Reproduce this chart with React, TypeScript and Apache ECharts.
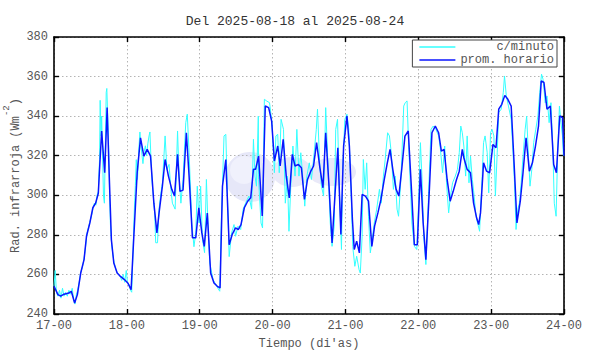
import React, { useEffect, useRef } from "react";
import * as echarts from "echarts";

const titleText = "Del 2025-08-18 al 2025-08-24";
const seriesNames = ["c/minuto", "prom. horario"];

// hourly mean (hours since 17-00)
const hourlyHours = [0, 1.3, 2.2, 3.3, 4.9, 5.7, 6.8, 7.7, 8.8, 9.9, 10.7, 11.8, 12.8, 13.7, 14.6, 15.0, 15.7, 16.7, 17.5, 18.2, 18.9, 19.7, 20.8, 21.9, 23.2, 24.3, 25.4, 26.3, 27.4, 28.5, 29.6, 30.7, 31.8, 32.9, 33.9,
  34.6, 35.7, 36.6, 37.7, 38.8, 39.7, 40.7, 41.5, 42.5, 43.6, 44.5, 45.6, 46.7, 47.7, 48.7, 49.5, 50.5, 51.6, 52.7, 53.8, 54.7, 55.5, 56.6, 57.7, 58.7, 59.8, 60.7, 61.6, 62.7, 63.8, 64.8, 65.7, 66.4, 67.4,
  68.6, 69.6, 70.7, 71.7, 72.6, 73.7, 74.5, 75.5, 76.5, 77.5, 78.5, 79.4, 80.5, 81.5, 82.5, 83.5, 84.6, 85.5, 86.5, 87.6, 88.6, 89.5, 90.6, 91.6, 92.6, 93.5, 94.5, 95.4, 96.5, 97.3, 98.3, 98.9, 99.7, 100.6,
  101.5, 102.6, 103.6, 104.7, 105.6, 106.7, 107.7, 108.7, 109.7, 110.7, 111.6, 112.7, 113.6, 114.6, 115.6, 116.7, 117.7, 118.7, 119.7, 120.7, 121.6, 122.5, 123.6, 124.5, 125.6, 126.7, 127.6, 128.5, 129.5, 130.5, 131.5, 132.6, 133.5, 134.5,
  135.0, 136.1, 137.2, 138.2, 139.2, 139.9, 140.5, 141.5, 142.5, 143.5, 144.6, 145.6, 146.5, 147.5, 148.5, 149.5, 150.6, 151.5, 152.5, 153.6, 154.5, 155.5, 156.6, 157.6, 158.6, 159.6, 160.5, 161.4, 162.4, 163.5, 164.6, 165.5, 166.6, 167.5, 168];
const hourlyValues = [254, 249.8, 249, 250, 250.6, 251.5, 245.6, 249.8, 260.7, 267.5, 279.3, 286, 293.7, 296, 301, 313, 332.5, 311.4, 344.3, 309.7, 277.6, 265.8, 260.7, 259, 257.4, 255.7, 252.3, 279.3, 311.4, 329, 319.8, 323.2, 319.8, 296, 281,
  291, 304.6, 318.1, 309.7, 303, 299.6, 320.7, 302, 302.6, 331.6, 309.7, 278.5, 278.5, 293.7, 281, 274.2, 291, 260.7, 255.7, 254, 253.2, 304.6, 318.1, 275, 280.2, 283.5, 282.7, 285.2, 293.7, 297, 298.7, 313.1, 313.1, 319.8,
  289.5, 345.1, 344.3, 337.5, 317.3, 324.9, 314.8, 328.3, 309.7, 298.7, 320.7, 314.8, 315.6, 313.9, 297.9, 308, 312.2, 314.8, 326.6, 313.9, 303.8, 331.6, 304.6, 275.9, 301.2, 324, 280.2, 324.9, 340.1, 324.9, 287.8, 272.6, 276.8, 270.9,
  300.4, 299.6, 297, 274.2, 284.4, 291.1, 297.9, 307.2, 315.6, 323.2, 313.1, 303, 299.6, 313.9, 329.9, 332.5, 304.6, 275, 275, 313.1, 286.1, 267.5, 301.2, 331.6, 335, 331.6, 322.3, 323.2, 308, 297, 302, 308, 312.2, 323.2,
  319, 313.1, 311.4, 296.2, 288.6, 285.2, 291.1, 316.4, 312.2, 311.4, 325.7, 324, 343.5, 346, 350.5, 348.5, 345.1, 318.1, 286, 297, 311.4, 329.1, 312.2, 316.4, 324.9, 335, 357.8, 357, 343.5, 345.1, 315.6, 311.4, 340.1, 339.2, 320];

// per-minute readings (spikes and troughs visible in the picture)
const minuteHours = [0, 0.4, 0.8, 1.3, 1.8, 2.3, 2.8, 3.3, 3.8, 4.4, 4.9, 5.5, 6.0, 6.5, 6.9, 7.4, 7.8, 8.3, 8.8, 9.4, 9.9, 10.4, 10.9, 11.4, 11.9, 12.4, 12.9, 13.3, 13.8, 14.2, 14.6, 15.0, 15.2, 15.5, 15.7, 16.0, 16.3, 16.6, 16.9, 17.2, 17.4, 17.7, 18.0, 18.3, 18.6, 19.0, 19.4, 19.8, 20.3, 20.8, 21.3, 21.8, 22.3, 22.8, 23.3, 23.8, 24.2, 24.7, 25.2, 25.6, 26.0, 26.4, 26.8, 27.1, 27.5, 27.9, 28.3, 28.6, 29.0, 29.3, 29.7, 30.1, 30.5, 30.9, 31.3, 31.6, 32.0, 32.4, 32.8, 33.2, 33.5,
  34.1, 34.6, 35.2, 35.7, 36.6, 37.2, 37.9, 38.5, 39.0, 39.9, 40.7, 41.2, 41.8, 42.5, 43.4, 43.9, 44.5, 45.4, 46.1, 46.7, 47.2, 47.8, 48.3, 48.9, 49.6, 50.2, 50.7, 51.3, 52.4, 53.6, 54.6, 55.1, 56.0, 56.6, 57.2, 57.7, 58.5, 59.3, 59.8, 60.6, 61.5, 62.3, 63.1, 64.2, 65.1, 65.7, 66.2, 66.7, 67.3,
  67.4, 68.2, 68.7, 69.3, 70.1, 71.0, 71.8, 72.6, 73.1, 73.7, 74.2, 74.8, 75.6, 76.2, 76.9, 77.4, 78.0, 78.7, 79.4, 80.0, 80.7, 81.3, 82.1, 82.6, 83.3, 84.1, 84.8, 85.7, 86.4, 86.8, 87.5, 88.1, 88.8, 89.5, 90.1, 91.0, 91.6, 92.3, 92.8, 93.4, 94.0, 94.7, 95.1, 95.8, 96.5, 97.1, 97.8, 98.4, 99.1, 99.7, 100.5,
  100.9, 101.5, 101.9, 102.5, 103.0, 103.6, 104.2, 104.8, 105.5, 106.3, 107.2, 107.8, 108.5, 109.1, 109.9, 110.5, 111.1, 111.8, 112.4, 113.0, 113.5, 114.2, 114.6, 115.2, 115.7, 116.3, 116.8, 117.4, 117.9, 118.7, 119.5, 120.1, 120.7, 121.2, 121.8, 122.5, 123.1, 123.6, 124.2, 124.9, 125.8, 126.7, 127.3, 128.0, 128.7, 129.3, 130.0, 130.6, 131.3, 132.2, 132.9, 133.5, 134.0,
  134.5, 135.0, 135.6, 136.1, 136.7, 137.2, 137.8, 138.3, 138.9, 139.4, 140.2, 141.0, 141.5, 142.0, 142.7, 143.2, 143.8, 144.3, 144.9, 145.4, 146.0, 146.5, 147.3, 148.0, 148.4, 149.0, 149.7, 150.6, 151.1, 151.7, 152.2, 152.8, 153.3, 153.9, 154.5, 155.2, 155.7, 156.3, 156.8, 157.4, 158.0, 158.7, 159.4, 160.0, 160.6, 161.1, 161.8, 162.4, 163.1, 163.7, 164.3, 164.8, 165.4, 165.9, 166.5, 167.0, 167.5, 167.8];
const minuteValues = [254, 262, 251, 249, 252, 248, 253, 249, 251, 249, 252, 250, 253, 247, 245, 250, 252, 256, 261, 264, 268, 274, 281, 284, 287, 290, 294, 296, 295, 300, 302, 318, 348, 330, 340, 320, 300, 296, 325, 352, 354, 340, 325, 300, 285, 275, 270, 266, 263, 261, 260, 259, 257, 260, 256, 262, 256, 255, 252, 251, 270, 290, 305, 318, 308, 322, 332, 326, 320, 316, 322, 325, 320, 326, 330, 332, 316, 305, 298, 290, 276,
  276, 293, 301, 306, 330, 313, 315.6, 303, 296, 293, 332.5, 309.7, 296, 308, 336.7, 341, 321.5, 286, 274, 281, 304.6, 286, 304.6, 277.6, 271, 308, 286, 265.8, 257.4, 254, 251.5, 286, 330, 330.8, 296, 269, 281, 285.2, 279.3, 284.4, 282.7, 293, 296, 299.6, 293, 328.3, 309.7, 304.6, 340,
  308, 286, 283.5, 348.5, 347.6, 346.8, 336.7, 311.4, 330, 330.8, 311.4, 338.4, 333.3, 296, 309.7, 281.8, 304.6, 324.9, 309.7, 333.3, 309.7, 321.5, 306.3, 294.5, 309.7, 316.4, 308, 321.5, 333.3, 343.5, 316.4, 304.6, 299.6, 344.3, 321.5, 286, 274.2, 284.4, 333.3, 338.4, 303, 272.6, 313.1, 338.4, 341, 333.3, 304.6, 274.2, 264.1, 269.2, 262.4,
  260.7, 279.3, 318.1, 303, 316.4, 289.4, 270.9, 277.6, 286, 293, 303, 296, 309.7, 318.1, 331.6, 330, 321.5, 303, 309.7, 293, 289.4, 306.3, 319.8, 345.1, 346.8, 347.7, 326.6, 304.6, 286, 274.2, 272.6, 296, 326.6, 309.7, 279.3, 265, 287.8, 309.7, 333.3, 335, 333.3, 330, 323.2, 311.4, 324.9, 306.3, 291.1, 299.6, 306.3, 309.7, 313.1, 321.5, 335,
  331.6, 324.9, 309.7, 330, 306.3, 319.8, 308, 301.2, 291.1, 286.9, 281.8, 308, 326.6, 330, 321.5, 301.2, 331.6, 333.3, 330, 299.6, 321.5, 341.8, 343.5, 351.9, 360.3, 350.2, 345.1, 338.4, 324.9, 306.3, 282.7, 293, 296, 306.3, 319.8, 333.3, 340, 319.8, 304.6, 313.1, 326.6, 333.3, 340, 351.9, 361.2, 358.6, 346.8, 350.2, 336.7, 346.8, 324.9, 296, 289.4, 321.5, 345.1, 336.7, 330, 320];

const yMin = 240;
const yMax = 380;
const yStep = 20;

const mono = "'Liberation Mono', 'DejaVu Sans Mono', monospace";
const textGray = "#555555";

export default function App() {
  const ref = useRef<HTMLDivElement | null>(null);

  useEffect(() => {
    if (!ref.current) return;
    const chart = echarts.init(ref.current, undefined, { renderer: "svg" });

    const toDay = (h: number) => 17 + h / 24;
    const minuteData = minuteHours.map((h, i) => [toDay(h), minuteValues[i]]);
    const hourlyData = hourlyHours.map((h, i) => [toDay(h), hourlyValues[i]]);

    const frameLine = { show: true, onZero: false, lineStyle: { color: "#000", width: 1.6 } };
    const innerTick = { show: true, inside: true, length: 5, lineStyle: { color: "#000", width: 1.4 } };
    const dotted = { show: true, lineStyle: { color: "#b4b4b4", type: [1.5, 2.5], width: 1 } };

    chart.setOption({
      animation: false,
      backgroundColor: "#ffffff",
      title: {
        text: titleText,
        left: "center",
        top: 10,
        textStyle: { fontFamily: mono, fontSize: 13, fontWeight: "normal", color: "#333333" },
      },
      grid: { left: 54, right: 26, top: 37, bottom: 40, outerBoundsMode: "none", containLabel: false },
      legend: {
        orient: "vertical",
        right: 33,
        top: 40,
        backgroundColor: "#ffffff",
        borderColor: "#444444",
        borderWidth: 1,
        borderRadius: 0,
        padding: [1, 3, 1, 7],
        itemGap: 1,
        itemWidth: 36,
        itemHeight: 1.5,
        icon: "rect",
        data: seriesNames,
        formatter: (name: string) => (name === seriesNames[0] ? "\u00a0".repeat(5) + name : name),
        textStyle: { fontFamily: mono, fontSize: 12, color: textGray, lineHeight: 12 },
      },
      graphic: [
        { type: "circle", z: 0, shape: { cx: 250, cy: 177, r: 25 }, style: { fill: "#e6e7f8" } },
        { type: "circle", z: 0, shape: { cx: 244, cy: 170, r: 14 }, style: { fill: "#f0f1fc" } },
        { type: "ellipse", z: 0, shape: { cx: 292, cy: 172, rx: 20, ry: 15 }, style: { fill: "#e9e9f8" } },
        { type: "ellipse", z: 0, shape: { cx: 332, cy: 172, rx: 24, ry: 14 }, style: { fill: "#e9e9f8" } },
      ],
      xAxis: [
        {
          type: "value",
          min: 17,
          max: 24,
          interval: 1,
          position: "bottom",
          axisLine: frameLine,
          axisTick: innerTick,
          splitLine: dotted,
          axisLabel: {
            formatter: (v: number) => `${v}-00`,
            fontFamily: mono,
            fontSize: 12,
            color: textGray,
            margin: 6,
          },
          name: "Tiempo (di'as)",
          nameLocation: "middle",
          nameGap: 24,
          nameTextStyle: { fontFamily: mono, fontSize: 12, color: textGray },
        },
        {
          type: "value",
          min: 17,
          max: 24,
          interval: 1,
          position: "top",
          axisLine: frameLine,
          axisTick: innerTick,
          splitLine: { show: false },
          axisLabel: { show: false },
        },
      ],
      yAxis: [
        {
          type: "value",
          min: yMin,
          max: yMax,
          interval: yStep,
          position: "left",
          axisLine: frameLine,
          axisTick: innerTick,
          splitLine: dotted,
          axisLabel: { fontFamily: mono, fontSize: 12, color: textGray, margin: 6 },
          name: "{a|Rad. infrarroja (Wm}{s|-2}{a|)}",
          nameLocation: "middle",
          nameGap: 32,
          nameRotate: 90,
          nameMoveOverlap: false,
          nameTextStyle: {
            rich: {
              a: { fontFamily: mono, fontSize: 12, color: textGray, lineHeight: 20, verticalAlign: "bottom" },
              s: { fontFamily: mono, fontSize: 9, color: textGray, lineHeight: 20, verticalAlign: "top" },
            },
          },
        },
        {
          type: "value",
          min: yMin,
          max: yMax,
          interval: yStep,
          position: "right",
          axisLine: frameLine,
          axisTick: innerTick,
          splitLine: { show: false },
          axisLabel: { show: false },
        },
      ],
      series: [
        {
          name: seriesNames[0],
          type: "line",
          data: minuteData,
          showSymbol: false,
          symbol: "none",
          lineStyle: { color: "#33ffff", width: 1 },
          itemStyle: { color: "#33ffff" },
          z: 2,
        },
        {
          name: seriesNames[1],
          type: "line",
          data: hourlyData,
          showSymbol: false,
          symbol: "none",
          lineStyle: { color: "#0a14ff", width: 1.5 },
          itemStyle: { color: "#0a14ff" },
          z: 3,
        },
      ],
    });

    return () => chart.dispose();
  }, []);

  return <div ref={ref} style={{ width: 590, height: 354, position: "absolute", left: 0, top: 0 }} />;
}
